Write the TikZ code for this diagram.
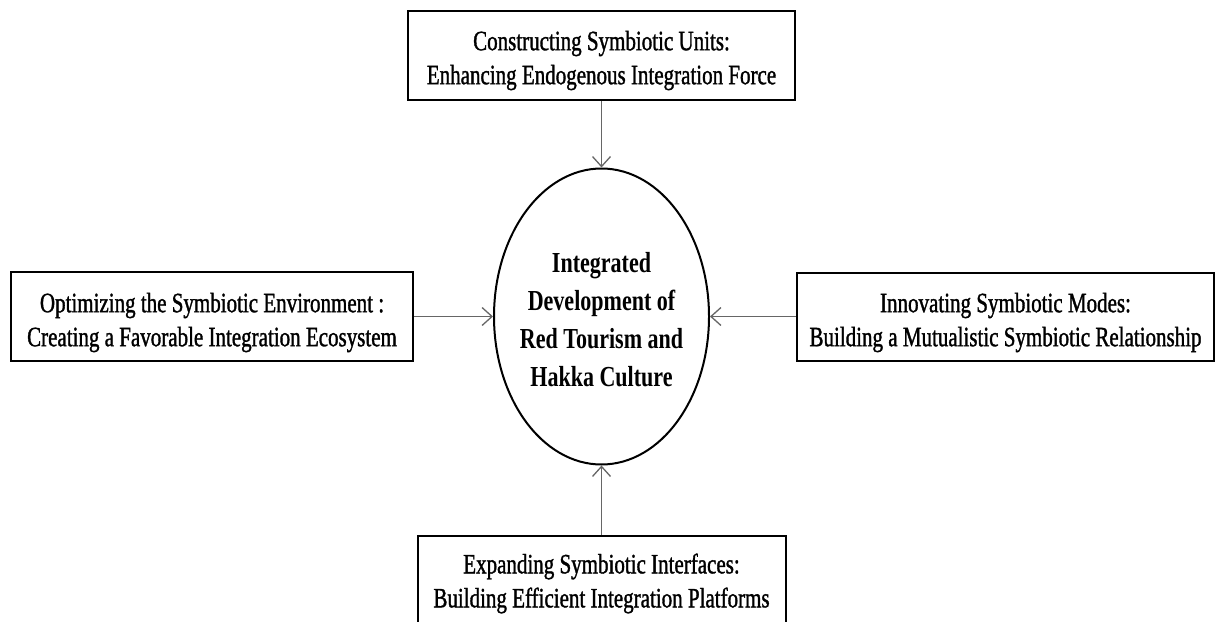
\documentclass[tikz,border=0pt]{standalone}
\usepackage{fontspec}
\setmainfont{Liberation Serif}
\newfontfamily\boxfont[FakeStretch=0.75,FakeBold=1.2]{Liberation Serif}
\newfontfamily\hubfont[FakeStretch=0.76]{Liberation Serif}
\usetikzlibrary{arrows.meta,shapes.geometric}
\begin{document}
\begin{tikzpicture}[x=1pt,y=-1pt,
  box/.style={draw=black,line width=2pt,inner sep=0pt},
  boxtext/.style={align=center,inner sep=0pt,
    font=\boxfont\fontsize{28}{34}\selectfont},
  conn/.style={draw=black!60,line width=1.3pt,
    -{Straight Barb[length=10pt,width=18pt,line width=1.3pt]}},
  hubshape/.style={ellipse,draw=black,line width=2pt,inner sep=0pt,
    minimum width=215pt,minimum height=296pt},
  hubtext/.style={align=center,inner sep=0pt,
    font=\hubfont\fontsize{29}{38}\selectfont\bfseries}]
\useasboundingbox (0,0) rectangle (1217,621);
\clip (0,0) rectangle (1217,621);
\fill[white] (0,0) rectangle (1217,621);
\node[box,minimum width=387pt,minimum height=89pt] (top) at (601.5,55.5) {};
\node[boxtext] (toptext) at ([yshift=-5pt]top.center)
  {Constructing Symbiotic Units:\\Enhancing Endogenous Integration Force};
\node[box,minimum width=402pt,minimum height=89pt] (left) at (212,316.5) {};
\node[boxtext] (lefttext) at ([yshift=-6pt]left.center)
  {Optimizing the Symbiotic Environment :\\Creating a Favorable Integration Ecosystem};
\node[box,minimum width=417pt,minimum height=88pt] (right) at (1005.5,316.5) {};
\node[boxtext] (righttext) at ([yshift=-6pt]right.center)
  {Innovating Symbiotic Modes:\\Building a Mutualistic Symbiotic Relationship};
\node[box,minimum width=368pt,minimum height=89pt] (bottom) at (601.5,580.5) {};
\node[boxtext] (bottomtext) at ([yshift=-3pt]bottom.center)
  {Expanding Symbiotic Interfaces:\\Building Efficient Integration Platforms};
\node[hubshape] (hub) at (601.5,316.5) {};
\node[hubtext] (hubtext) at ([yshift=-3pt]hub.center)
  {Integrated\\Development of\\Red Tourism and\\Hakka Culture};
\draw[conn] (top.south) -- (hub.north);
\draw[conn] (left.east) -- (hub.west);
\draw[conn] (right.west) -- (hub.east);
\draw[conn] (bottom.north) -- (hub.south);
\end{tikzpicture}
\end{document}
